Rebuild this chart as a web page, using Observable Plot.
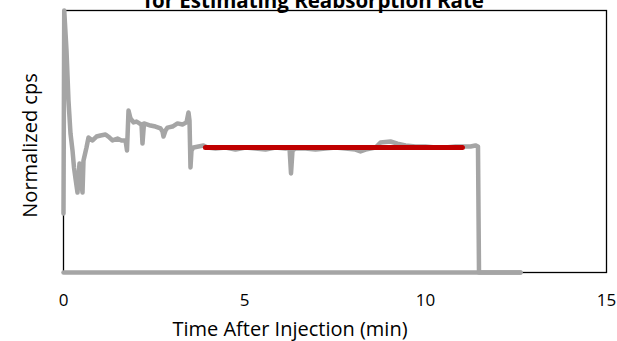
<!DOCTYPE html>
<html>
<head>
<meta charset="utf-8">
<script src="https://cdn.jsdelivr.net/npm/d3@7"></script>
<script src="https://cdn.jsdelivr.net/npm/@observablehq/plot@0.6"></script>
<style>
  html, body { margin: 0; padding: 0; background: white; }
</style>
</head>
<body>
<div id="chart"></div>
<script>
const titleText = "for Estimating Reabsorption Rate";
const xLabel = "Time After Injection (min)";
const yLabel = "Normalized cps";
const xTicks = [0, 5, 10, 15];

// Measured trace (time in min, normalized cps)
const traceTime = [0, 0.02, 0.083, 0.138, 0.193, 0.249, 0.290, 0.331, 0.387, 0.442, 0.470, 0.525, 0.552, 0.635, 0.691, 0.801, 0.912, 1.022, 1.160, 1.271, 1.354, 1.492, 1.602, 1.713, 1.754, 1.796, 1.851, 1.934, 2.017, 2.099, 2.155, 2.182, 2.224, 2.403, 2.541, 2.680, 2.735, 2.762, 2.818, 2.873, 3.011, 3.149, 3.287, 3.398, 3.453, 3.481, 3.508, 3.536, 3.591, 3.729, 3.867, 3.978, 4.199, 4.475, 4.751, 5.028, 5.304, 5.580, 5.856, 6.133, 6.243, 6.285, 6.326, 6.409, 6.685, 6.961, 7.238, 7.514, 7.790, 8.066, 8.204, 8.343, 8.619, 8.757, 9.033, 9.227, 9.448, 9.724, 10.000, 10.276, 10.552, 10.829, 11.022, 11.243, 11.381, 11.450, 11.478, 12.624];
const traceValue = [0.225, 1.0, 0.847, 0.656, 0.531, 0.466, 0.401, 0.359, 0.305, 0.416, 0.370, 0.305, 0.427, 0.477, 0.515, 0.504, 0.519, 0.523, 0.527, 0.515, 0.504, 0.511, 0.504, 0.504, 0.466, 0.618, 0.588, 0.573, 0.576, 0.569, 0.565, 0.492, 0.569, 0.561, 0.557, 0.550, 0.538, 0.519, 0.542, 0.553, 0.557, 0.569, 0.565, 0.573, 0.611, 0.580, 0.401, 0.466, 0.477, 0.481, 0.485, 0.477, 0.473, 0.477, 0.469, 0.477, 0.473, 0.469, 0.477, 0.473, 0.477, 0.378, 0.466, 0.473, 0.473, 0.469, 0.473, 0.477, 0.473, 0.469, 0.462, 0.469, 0.477, 0.496, 0.500, 0.492, 0.485, 0.481, 0.481, 0.477, 0.477, 0.481, 0.481, 0.481, 0.485, 0.481, 0, 0];

// Baseline segment along zero
const baselineTime = [0, 12.624];
const baselineValue = [0, 0];

// Fitted plateau used for estimating reabsorption rate
const fitTime = [3.92, 11.02];
const fitValue = [0.477, 0.477];

const trace = traceTime.map((t, i) => ({t, v: traceValue[i]}));
const baseline = baselineTime.map((t, i) => ({t, v: baselineValue[i]}));
const fit = fitTime.map((t, i) => ({t, v: fitValue[i]}));

const chart = Plot.plot({
  width: 617,
  height: 341,
  marginLeft: 63,
  marginRight: 11,
  marginTop: 10,
  marginBottom: 69,
  style: {fontFamily: "'Open Sans', sans-serif", background: "white", color: "black", overflow: "visible"},
  x: {domain: [0, 15]},
  y: {domain: [0, 1]},
  marks: [
    Plot.frame({stroke: "black", strokeWidth: 1.3}),
    Plot.line(baseline, {x: "t", y: "v", stroke: "#a5a5a5", strokeWidth: 4.5}),
    Plot.line(trace, {x: "t", y: "v", stroke: "#a5a5a5", strokeWidth: 4.5, strokeLinejoin: "round"}),
    Plot.line(fit, {x: "t", y: "v", stroke: "#c00000", strokeWidth: 5}),
    Plot.axisX({ticks: xTicks, tickSize: 0, tickPadding: 21, fontSize: 17, label: null, tickFormat: d => String(d)}),
    Plot.axisY({ticks: [], label: null, tickSize: 0}),
    Plot.text([titleText], {frameAnchor: "top", dx: -21, dy: -3, lineAnchor: "bottom", fontSize: 20.5, fontWeight: "bold", fill: "black"}),
    Plot.text([xLabel], {frameAnchor: "bottom", dx: -45, dy: 57, lineAnchor: "middle", fontSize: 20, fill: "black"}),
    Plot.text([yLabel], {frameAnchor: "left", textAnchor: "middle", dx: -33, dy: 4, rotate: -90, lineAnchor: "middle", fontSize: 20, fill: "black"})
  ]
});
document.getElementById("chart").appendChild(chart);
</script>
</body>
</html>
